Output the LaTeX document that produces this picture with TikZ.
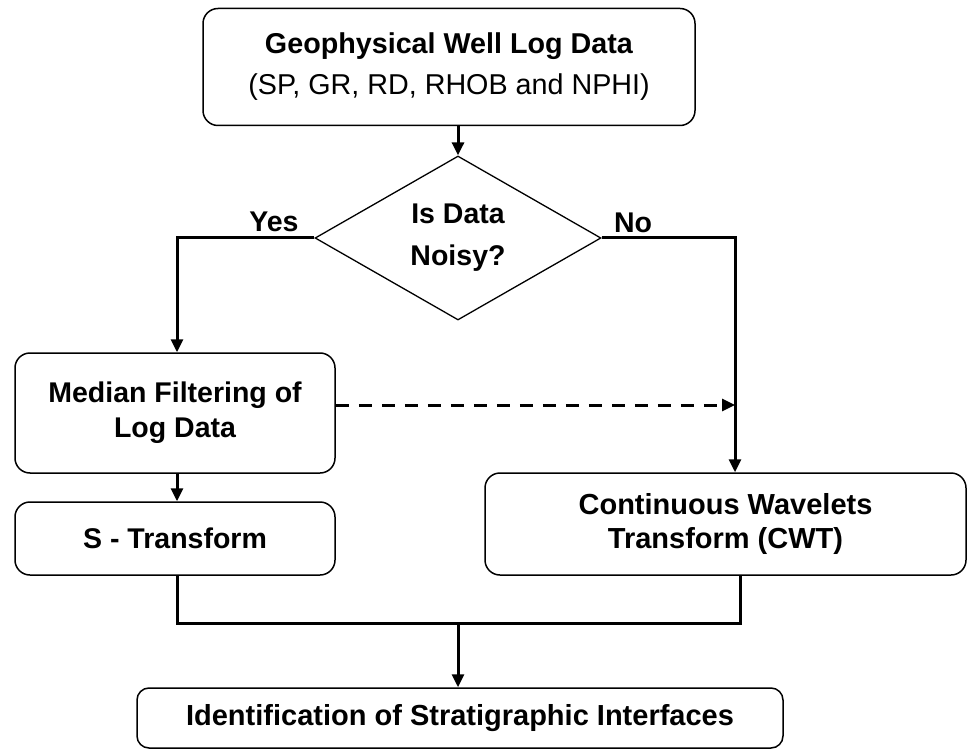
\documentclass[tikz,border=0pt]{standalone}
\usepackage{fontspec}
\setmainfont{Liberation Sans}
\usetikzlibrary{shapes.geometric,arrows.meta,calc}
\begin{document}
\begin{tikzpicture}[x=1pt,y=-1pt,
  box/.style={draw,line width=1.5pt,rounded corners=15pt,align=center,inner sep=0pt,font=\bfseries\fontsize{28.5}{35}\selectfont},
  conn/.style={line width=3pt},
  arr/.style={conn,-{Triangle[length=13pt,width=12pt]}},
  lbl/.style={font=\bfseries\fontsize{28.5}{34}\selectfont,anchor=base}]
\useasboundingbox (0,0) rectangle (968,751);
\node[box,minimum width=492pt,minimum height=117pt,font=\fontsize{28.7}{41}\selectfont] (top) at (449,67)
  {\textbf{Geophysical Well Log Data}\\(SP, GR, RD, RHOB and NPHI)};
\node[diamond,draw,line width=1.3pt,minimum width=286pt,minimum height=164pt,inner sep=0pt,align=center,
  font=\bfseries\fontsize{28.5}{42}\selectfont] (dec) at (458,238) {Is Data\\Noisy?};
\node[box,minimum width=320pt,minimum height=120pt] (med) at (175,413) {Median Filtering of\\Log Data};
\node[box,minimum width=320pt,minimum height=73pt] (st) at (175,538.5) {S - Transform};
\node[box,minimum width=481pt,minimum height=102pt,font=\bfseries\fontsize{29}{34}\selectfont] (cwt) at (725.5,524)
  {Continuous Wavelets\\Transform (CWT)};
\node[box,rounded corners=12pt,minimum width=646pt,minimum height=60pt,font=\bfseries\fontsize{29}{35}\selectfont] (bot) at (460,718)
  {Identification of Stratigraphic Interfaces};
\node[lbl] (yes) at (274,232) {Yes};
\node[lbl] (no) at (633,233) {No};
\coordinate (vline) at ([xshift=9.5pt]cwt.north);
\coordinate (jn) at (458,623);
\draw[arr] (dec.north |- top.south) -- (dec.north);
\draw[arr] (dec.west) -| ([xshift=2pt]med.north);
\draw[arr] (dec.east) -| (vline);
\draw[arr,dashed,dash pattern=on 13pt off 10pt] ([yshift=8pt]med.east) -- ([yshift=8pt]med.east -| vline);
\draw[arr] ([xshift=2pt]med.south) -- ([xshift=2pt]st.north);
\draw[conn] ([xshift=2pt]st.south) |- (jn) -| ([xshift=14.5pt]cwt.south);
\draw[arr] (jn) -- (jn |- bot.north);
\end{tikzpicture}
\end{document}
